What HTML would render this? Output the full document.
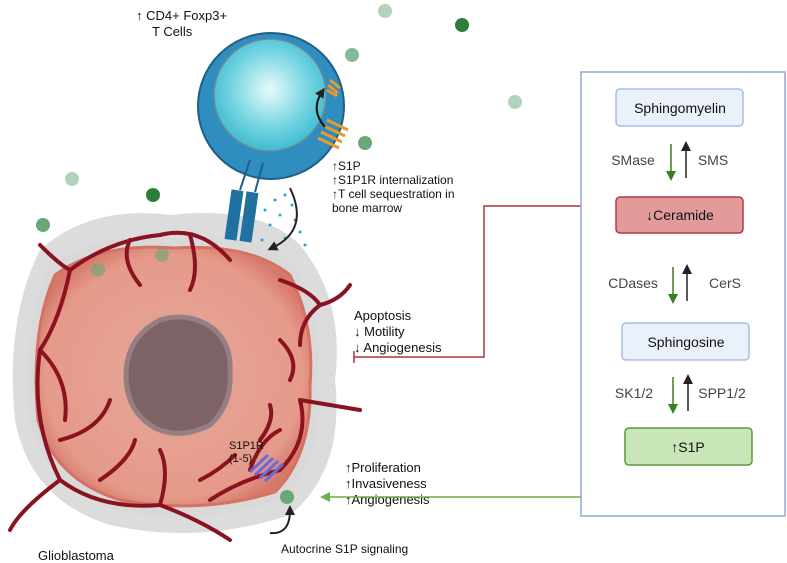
<!DOCTYPE html>
<html><head><style>
body{margin:0;background:#fff;}
svg{display:block;font-family:"Liberation Sans",sans-serif;}
</style></head><body>
<svg width="787" height="563" viewBox="0 0 787 563">
<defs>
<radialGradient id="nuc" cx="0.5" cy="0.45" r="0.6"><stop offset="0" stop-color="#e8fbfc"/><stop offset="0.6" stop-color="#6fd3e0"/><stop offset="1" stop-color="#34b5cc"/></radialGradient>
<radialGradient id="tum" cx="0.5" cy="0.5" r="0.55"><stop offset="0" stop-color="#e8a79a"/><stop offset="0.85" stop-color="#e59a8a"/><stop offset="1" stop-color="#d6786a"/></radialGradient>
<marker id="ab" markerUnits="userSpaceOnUse" markerWidth="10" markerHeight="10" refX="5" refY="5" orient="auto"><path d="M0,0 L10,5 L0,10z" fill="#222"/></marker>
<marker id="ag" markerUnits="userSpaceOnUse" markerWidth="10" markerHeight="10" refX="5" refY="5" orient="auto"><path d="M0,0 L10,5 L0,10z" fill="#3a7d22"/></marker>
<marker id="agl" markerUnits="userSpaceOnUse" markerWidth="10" markerHeight="10" refX="5" refY="5" orient="auto"><path d="M0,0 L10,5 L0,10z" fill="#6ab04c"/></marker>
</defs>
<!-- tumor halo -->
<path d="M40,250 Q90,205 170,215 Q260,205 300,245 Q345,300 335,380 Q345,470 290,515 Q200,545 110,525 Q30,500 15,420 Q5,320 40,250z" fill="#dcdcdc"/>
<path d="M50,265 Q100,230 175,238 Q255,232 295,265 Q325,320 318,385 Q325,460 280,500 Q200,528 115,510 Q45,488 30,420 Q22,320 50,265z" fill="#d9d9d9"/>
<path d="M55,275 Q100,242 175,248 Q250,243 290,275 Q315,325 310,385 Q312,455 275,492 Q200,515 120,500 Q55,480 38,420 Q30,330 55,275z" fill="url(#tum)" stroke="#d57264" stroke-width="3"/>
<!-- nucleus -->
<path d="M160,320 Q185,312 208,325 Q232,340 230,372 Q232,405 210,425 Q180,440 155,428 Q127,412 126,378 Q125,338 160,320z" fill="#7e6366" stroke="#957f82" stroke-width="5"/>
<!-- vessels -->
<g stroke="#8b1220" stroke-width="4" fill="none" stroke-linecap="round">
<path d="M40,245 Q60,265 70,270 Q110,240 160,235 Q200,225 230,260"/>
<path d="M70,270 Q60,320 40,350 Q30,420 60,480 Q100,510 160,505 Q200,520 230,540"/>
<path d="M40,350 Q70,380 65,420"/>
<path d="M60,480 Q20,510 10,530"/>
<path d="M280,280 Q310,290 320,305 Q340,300 350,285"/>
<path d="M320,305 Q300,320 300,345"/>
<path d="M300,400 Q330,405 360,410 M300,400 Q310,440 280,470 Q240,480 210,500"/>
<path d="M130,240 Q120,260 140,285 M190,235 Q200,270 190,290"/>
<path d="M60,440 Q100,430 110,400 M100,480 Q130,460 135,440 M160,505 Q170,470 160,450 M200,480 Q220,470 235,455 M250,470 Q260,440 280,430"/>
<path d="M280,340 Q300,360 290,380 M260,440 Q275,420 270,405"/>
</g>
<!-- green particles -->
<g fill="#6aa877"><circle cx="385" cy="11" r="7" opacity="0.5"/><circle cx="515" cy="102" r="7" opacity="0.5"/><circle cx="72" cy="179" r="7" opacity="0.5"/><circle cx="365" cy="143" r="7"/><circle cx="43" cy="225" r="7"/><circle cx="98" cy="270" r="7" opacity="0.6"/><circle cx="162" cy="255" r="7" opacity="0.6"/><circle cx="287" cy="497" r="7"/><circle cx="632" cy="493" r="7"/><circle cx="352" cy="55" r="7" opacity="0.8"/></g>
<g fill="#2e7d3a"><circle cx="462" cy="25" r="7"/><circle cx="153" cy="195" r="7"/></g>
<!-- T cell -->
<circle cx="271" cy="106" r="73" fill="#2f8dbf" stroke="#1f5f85" stroke-width="2"/>
<circle cx="270" cy="95" r="56" fill="url(#nuc)" stroke="#6d8a9b" stroke-width="1.5"/>
<g stroke="#e89a2a" stroke-width="3"><line x1="327" y1="120" x2="348" y2="130"/><line x1="324" y1="126" x2="345" y2="136"/><line x1="321" y1="132" x2="342" y2="142"/><line x1="318" y1="138" x2="339" y2="148"/><line x1="330" y1="80" x2="340" y2="88"/><line x1="328" y1="85" x2="338" y2="93"/><line x1="327" y1="90" x2="337" y2="96"/></g>
<path d="M325,127 Q310,110 322,92" stroke="#111" stroke-width="2" fill="none" marker-end="url(#ab)"/>
<g stroke="#1f5f85" stroke-width="2"><line x1="250" y1="160" x2="240" y2="190"/><line x1="263" y1="163" x2="255" y2="192"/></g>
<rect x="228" y="190" width="12" height="50" fill="#2070a0" transform="rotate(8 234 215)"/>
<rect x="243" y="192" width="12" height="50" fill="#2070a0" transform="rotate(8 249 217)"/>
<g fill="#2ea3d0"><circle cx="285" cy="195" r="1.5"/><circle cx="292" cy="205" r="1.5"/><circle cx="280" cy="215" r="1.5"/><circle cx="295" cy="220" r="1.5"/><circle cx="270" cy="225" r="1.5"/><circle cx="300" cy="232" r="1.5"/><circle cx="285" cy="238" r="1.5"/><circle cx="265" cy="210" r="1.5"/><circle cx="275" cy="200" r="1.5"/><circle cx="305" cy="245" r="1.5"/><circle cx="262" cy="240" r="1.5"/></g>
<path d="M290,188 Q310,230 272,248" stroke="#222" stroke-width="2" fill="none" marker-end="url(#ab)"/>
<!-- tumor receptor -->
<g stroke="#6a6ad8" stroke-width="3"><line x1="250" y1="472" x2="268" y2="455"/><line x1="255" y1="475" x2="273" y2="458"/><line x1="260" y1="478" x2="278" y2="461"/><line x1="265" y1="481" x2="283" y2="464"/></g>
<path d="M270,533 Q290,535 290,510" stroke="#222" stroke-width="2" fill="none" marker-end="url(#ab)"/>
<!-- texts -->
<g font-size="13" fill="#111">
<text x="136" y="20">↑ CD4+ Foxp3+</text><text x="152" y="36">T Cells</text>
<text x="332" y="170" font-size="12">↑S1P</text><text x="332" y="184" font-size="12">↑S1P1R internalization</text><text x="332" y="198" font-size="12">↑T cell sequestration in</text><text x="332" y="212" font-size="12">bone marrow</text>
<text x="354" y="320">Apoptosis</text><text x="354" y="336">↓ Motility</text><text x="354" y="352">↓ Angiogenesis</text>
<text x="345" y="472">↑Proliferation</text><text x="345" y="488">↑Invasiveness</text><text x="345" y="504">↑Angiogenesis</text>
<text x="229" y="449" font-size="11">S1P1R</text><text x="229" y="462" font-size="11">(1-5)</text>
<text x="281" y="553" font-size="12">Autocrine S1P signaling</text>
<text x="38" y="560">Glioblastoma</text>
</g>
<!-- inhibition line -->
<path d="M582,206 H484 V357 H354" stroke="#b0303a" stroke-width="1.5" fill="none"/><line x1="354" y1="351" x2="354" y2="363" stroke="#b0303a" stroke-width="1.5"/>
<line x1="582" y1="497" x2="325" y2="497" stroke="#6ab04c" stroke-width="1.5" marker-end="url(#agl)"/>
<!-- pathway box -->
<rect x="581" y="72" width="204" height="444" fill="#fff" stroke="#8fa6dc" stroke-width="1.5"/>
<rect x="616" y="89" width="127" height="37" rx="4" fill="#eaf1fb" stroke="#9ab4e0" stroke-width="1.3"/>
<rect x="616" y="197" width="127" height="36" rx="4" fill="#e39a9a" stroke="#b23a48" stroke-width="1.5"/>
<rect x="622" y="323" width="127" height="37" rx="4" fill="#eaf1fb" stroke="#9ab4e0" stroke-width="1.3"/>
<rect x="625" y="428" width="127" height="37" rx="4" fill="#c8e6b8" stroke="#5a9a3a" stroke-width="1.5"/>
<g font-size="14" fill="#111" text-anchor="middle"><text x="680" y="113">Sphingomyelin</text><text x="680" y="220">↓Ceramide</text><text x="686" y="347">Sphingosine</text><text x="688" y="452">↑S1P</text></g>
<g font-size="14" fill="#444" text-anchor="middle"><text x="633" y="165">SMase</text><text x="713" y="165">SMS</text><text x="633" y="288">CDases</text><text x="725" y="288">CerS</text><text x="634" y="398">SK1/2</text><text x="722" y="398">SPP1/2</text></g>
<g stroke-width="1.5"><line x1="671" y1="144" x2="671" y2="176" stroke="#3a7d22" marker-end="url(#ag)"/><line x1="686" y1="178" x2="686" y2="146" stroke="#222" marker-end="url(#ab)"/>
<line x1="673" y1="267" x2="673" y2="299" stroke="#3a7d22" marker-end="url(#ag)"/><line x1="687" y1="301" x2="687" y2="269" stroke="#222" marker-end="url(#ab)"/>
<line x1="673" y1="377" x2="673" y2="409" stroke="#3a7d22" marker-end="url(#ag)"/><line x1="688" y1="411" x2="688" y2="379" stroke="#222" marker-end="url(#ab)"/></g>
</svg>
</body></html>
